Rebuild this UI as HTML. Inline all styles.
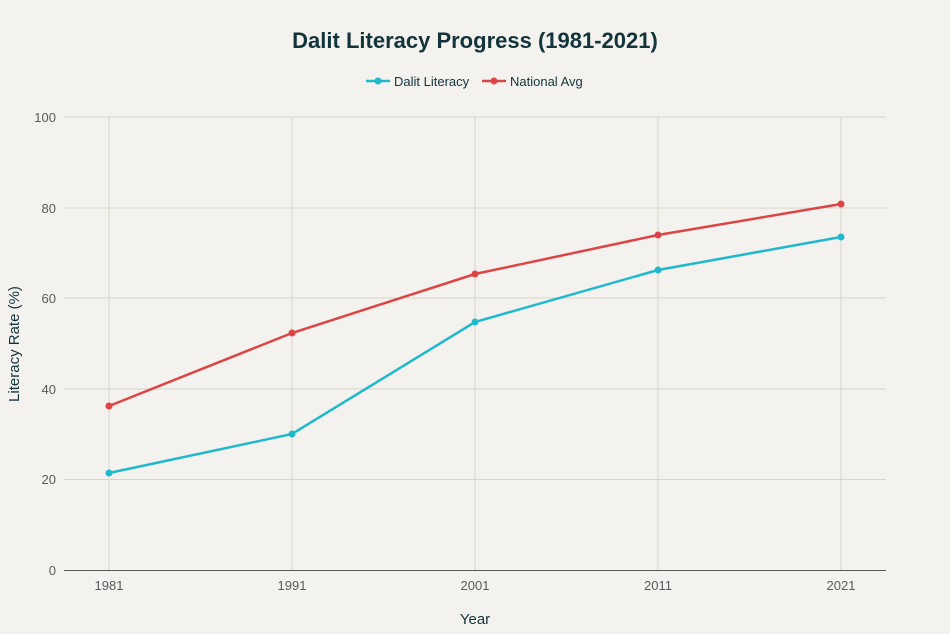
<!DOCTYPE html>
<html><head><meta charset="utf-8"><style>
body{margin:0;background:#f3f2ee;}
svg{display:block;font-family:"Liberation Sans",sans-serif;}
</style></head><body>
<svg width="950" height="634" viewBox="0 0 950 634">
<rect width="950" height="634" fill="#f3f2ee"/>
<text x="475" y="48" text-anchor="middle" font-size="22" font-weight="bold" fill="#13343b">Dalit Literacy Progress (1981-2021)</text>
<g font-size="13" fill="#13343b">
<line x1="366" y1="81" x2="390" y2="81" stroke="#1fb8cd" stroke-width="2.5"/><circle cx="378" cy="81" r="3.5" fill="#1fb8cd"/>
<text x="394" y="86">Dalit Literacy</text>
<line x1="482" y1="81" x2="506" y2="81" stroke="#db4545" stroke-width="2.5"/><circle cx="494" cy="81" r="3.5" fill="#db4545"/>
<text x="510" y="86">National Avg</text>
</g>
<g stroke="#d9d2c9" stroke-width="1">
<line x1="64" y1="117" x2="886" y2="117"/>
<line x1="64" y1="208" x2="886" y2="208"/>
<line x1="64" y1="298" x2="886" y2="298"/>
<line x1="64" y1="389" x2="886" y2="389"/>
<line x1="64" y1="479.5" x2="886" y2="479.5"/>
<line x1="109" y1="117" x2="109" y2="570"/>
<line x1="292" y1="117" x2="292" y2="570"/>
<line x1="475" y1="117" x2="475" y2="570"/>
<line x1="658" y1="117" x2="658" y2="570"/>
<line x1="841" y1="117" x2="841" y2="570"/>
</g>
<line x1="64" y1="570.5" x2="886" y2="570.5" stroke="#555" stroke-width="1"/>
<g font-size="13" fill="#5a5a5a" text-anchor="end">
<text x="56" y="122">100</text><text x="56" y="213">80</text><text x="56" y="303">60</text>
<text x="56" y="394">40</text><text x="56" y="484">20</text><text x="56" y="575">0</text>
</g>
<g font-size="13" fill="#5a5a5a" text-anchor="middle">
<text x="109" y="590">1981</text><text x="292" y="590">1991</text><text x="475" y="590">2001</text>
<text x="658" y="590">2011</text><text x="841" y="590">2021</text>
</g>
<text x="475" y="624" text-anchor="middle" font-size="15" fill="#13343b">Year</text>
<text transform="translate(19,344) rotate(-90)" text-anchor="middle" font-size="15" fill="#13343b">Literacy Rate (%)</text>
<polyline points="109,473 292,434 475,322 658,270 841,237" fill="none" stroke="#1fb8cd" stroke-width="2.5"/>
<polyline points="109,406 292,333 475,274 658,235 841,204" fill="none" stroke="#db4545" stroke-width="2.5"/>
<g fill="#1fb8cd"><circle cx="109" cy="473" r="3.5"/><circle cx="292" cy="434" r="3.5"/><circle cx="475" cy="322" r="3.5"/><circle cx="658" cy="270" r="3.5"/><circle cx="841" cy="237" r="3.5"/></g>
<g fill="#db4545"><circle cx="109" cy="406" r="3.5"/><circle cx="292" cy="333" r="3.5"/><circle cx="475" cy="274" r="3.5"/><circle cx="658" cy="235" r="3.5"/><circle cx="841" cy="204" r="3.5"/></g>
</svg>
</body></html>
